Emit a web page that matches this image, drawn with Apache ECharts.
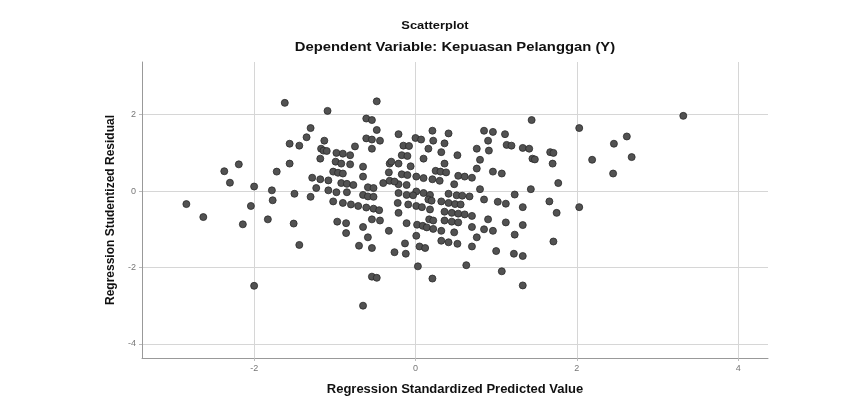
<!DOCTYPE html>
<html>
<head>
<meta charset="utf-8">
<script src="https://cdn.jsdelivr.net/npm/echarts@6/dist/echarts.min.js"></script>
<style>
	html, body { margin: 0; padding: 0; background: #fff; }
	#chart { width: 863px; height: 401px; }
</style>
</head>
<body>
<div id="chart"></div>
<script>
// Regression Standardized Predicted Value (x) and Studentized Residual (y)
var predicted = [
	-1.62, -1.09, -1.30, -1.35, -1.13, -1.56, -1.44, -1.17, -1.14, -1.10,
	-0.98, -0.90, -0.81, -1.18, -1.56, -2.19, -0.99, -0.92, -0.81, -2.37,
	-1.72, -1.02, -0.96, -0.90, -2.30, -1.28, -1.18, -1.08, -0.92, -0.85,
	-0.77, -2.00, -1.23, -1.08, -0.98, -0.85, -1.78, -1.50, -1.30, -1.77,
	-2.84, -2.04, -1.02, -0.90, -0.80, -0.71, -0.61, -0.52, -0.45, -2.63,
	-1.83, -2.14, -1.51, -0.97, -0.86, -0.86, -1.44, -2.00,
	-0.48, -0.61, -0.54, -0.48, -0.21, -0.61, -0.54, -0.44, -0.54, -0.75,
	-0.65, -0.65, -0.40, -0.32, -0.30, -0.21, -0.15, -0.08, -0.17, -0.10,
	-0.33, -0.17, -0.10, -0.21, -0.11, -0.06, 0.00, 0.07, 0.21, 0.22,
	0.10, 0.16, 0.01, 0.10, 0.21, 0.30, 0.25, 0.31, 0.38, 0.32,
	0.36, 0.36, 0.41, 0.52, 0.53, 0.61, 0.70, 0.48, 0.76, 0.80,
	0.76, 0.85, 0.96, 0.90, 0.91, 1.11, 1.13, 1.19, 0.96, 1.07,
	0.80, 1.23, 1.33, 1.41, 1.44, 1.45, 1.48, 1.67, 1.71, 1.70,
	1.77, 1.43, 2.03, 1.66, 1.75, 2.03, 1.33, 1.02, 1.12, 0.85,
	0.90, 1.12, 1.33, 0.41, 0.51, 0.58, 0.67, 0.32, 0.41, 0.49,
	0.56, 0.36, 0.45, 0.53, 0.61, 0.70, 0.36, 0.45, 0.53, 0.01,
	0.10, 0.18, -0.21, -0.11, -0.03, -0.09, 0.01, 0.08, 0.16, 0.20,
	0.18, -0.22, -0.21, 0.17, 0.22, -0.59, -0.52, -0.65, -0.59, -0.52,
	-0.32, -0.26, -0.54, -0.44, -0.11, 0.02, 0.09,
	-0.65, -0.59, -0.70, -0.54, -0.33, -0.26, -0.12, -0.13, 0.01, 0.14,
	0.22, 0.32, 0.05, 0.12, 0.32, 0.41, 0.52, 0.48, 0.70, 0.70,
	0.76, 0.85, 0.96, 1.00, 1.23, 1.22, 1.33, 1.71, 0.03, 0.63,
	1.07, 0.21, 1.33, -0.54, -0.48, -0.65,
	3.32, 2.62, 2.46, 2.68, 2.19, 2.45
];
var residual = [
	2.31, 2.10, 1.65, 1.41, 1.32, 1.24, 1.19, 1.11, 1.06, 1.05,
	1.00, 0.98, 0.94, 0.85, 0.72, 0.70, 0.77, 0.72, 0.70, 0.52,
	0.51, 0.51, 0.48, 0.46, 0.22, 0.35, 0.31, 0.28, 0.21, 0.19,
	0.16, 0.12, 0.08, 0.02, -0.03, -0.03, 0.02, -0.07, -0.15, -0.24,
	-0.34, -0.39, -0.27, -0.31, -0.35, -0.39, -0.43, -0.46, -0.50, -0.68,
	-0.74, -0.87, -0.85, -0.80, -0.84, -1.10, -1.41, -2.48,
	2.35, 1.90, 1.86, 1.60, 1.49, 1.38, 1.35, 1.32, 1.11, 1.17,
	0.64, 0.38, 0.21, 0.72, 0.77, 0.72, 1.19, 1.18, 0.94, 0.92,
	0.49, 0.44, 0.42, 0.18, 0.16, 0.65, 1.39, 1.35, 1.58, 1.32,
	0.85, 1.11, 0.38, 0.34, 0.31, 0.27, 0.53, 0.51, 0.49, 1.02,
	1.25, 0.72, 1.51, 0.94, 0.40, 0.38, 0.35, 0.18, 1.11, 0.82,
	0.59, 1.58, 1.55, 1.32, 1.06, 1.49, 1.21, 1.19, 0.51, 0.46,
	0.05, -0.09, 1.13, 1.11, 1.86, 0.85, 0.83, 1.02, 1.00, 0.72,
	0.21, 0.05, 1.65, -0.27, -0.57, -0.42, -0.42, -0.28, -0.33, -0.22,
	-0.74, -0.82, -0.89, -0.07, -0.11, -0.12, -0.14, -0.27, -0.31, -0.34,
	-0.35, -0.54, -0.57, -0.59, -0.61, -0.65, -0.77, -0.80, -0.82, -0.01,
	-0.05, -0.10, -0.05, -0.10, -0.11, -0.35, -0.39, -0.42, -0.22, -0.25,
	-0.48, -0.31, -0.57, -0.74, -0.77, 0.10, 0.08, -0.10, -0.14, -0.15,
	0.27, 0.25, -0.74, -0.77, -0.84, -0.88, -0.91,
	-0.94, -1.21, -1.43, -1.49, -1.04, -1.60, -1.64, -1.37, -1.17, -0.95,
	-0.99, -1.04, -1.45, -1.49, -1.30, -1.34, -1.38, -1.08, -0.94, -1.45,
	-1.21, -1.00, -1.04, -1.57, -1.14, -1.64, -1.70, -1.32, -1.97, -1.94,
	-2.10, -2.29, -2.47, -2.24, -2.27, -3.00,
	1.97, 1.43, 1.24, 0.89, 0.82, 0.46
];
var xTicks = [-2, 0, 2, 4];
var yTicks = [-4, -2, 0, 2];

var points = predicted.map(function (x, i) { return [x, residual[i]]; });

var chart = echarts.init(document.getElementById('chart'));
var labelStyle = { color: '#777', fontSize: 9, fontFamily: 'Liberation Sans' };
var option = {
	backgroundColor: '#fff',
	animation: false,
	graphic: [{
		type: 'text', x: 435, y: 26, scaleX: 1.12,
		style: { text: 'Scatterplot', font: 'bold 11.5px "Liberation Sans"', fill: '#111', align: 'center', verticalAlign: 'middle' }
	}, {
		type: 'text', x: 455, y: 47, scaleX: 1.14,
		style: { text: 'Dependent Variable: Kepuasan Pelanggan (Y)', font: 'bold 13px "Liberation Sans"', fill: '#111', align: 'center', verticalAlign: 'middle' }
	}],
	grid: { left: 142, right: 95, top: 62, bottom: 38 },
	xAxis: {
		type: 'value',
		min: -3.39,
		max: 4.37,
		name: 'Regression Standardized Predicted Value',
		nameLocation: 'middle',
		nameGap: 25,
		nameTextStyle: { color: '#111', fontSize: 13, fontWeight: 'bold', fontFamily: 'Liberation Sans' },
		axisLine: { onZero: false, lineStyle: { color: '#999', width: 1 } },
		axisTick: { show: true, length: 3, customValues: xTicks, lineStyle: { color: '#bbb' } },
		axisLabel: { customValues: xTicks, margin: 6, ...labelStyle },
		splitLine: { show: true, lineStyle: { color: '#d6d6d6', width: 1 } }
	},
	yAxis: {
		type: 'value',
		min: -4.37,
		max: 3.38,
		name: 'Regression Studentized Residual',
		nameLocation: 'middle',
		nameGap: 25,
		nameTextStyle: { color: '#111', fontSize: 12, fontWeight: 'bold', fontFamily: 'Liberation Sans' },
		axisLine: { show: true, onZero: false, lineStyle: { color: '#999', width: 1 } },
		axisTick: { show: true, length: 3, customValues: yTicks, lineStyle: { color: '#bbb' } },
		axisLabel: { customValues: yTicks, margin: 6, ...labelStyle },
		splitLine: { show: true, lineStyle: { color: '#d6d6d6', width: 1 } }
	},
	series: [{
		type: 'scatter',
		symbol: 'circle',
		symbolSize: 7,
		itemStyle: { color: '#525252', borderColor: '#2a2a2a', borderWidth: 0.8, opacity: 1 },
		data: points
	}]
};
chart.setOption(option);
</script>
</body>
</html>
